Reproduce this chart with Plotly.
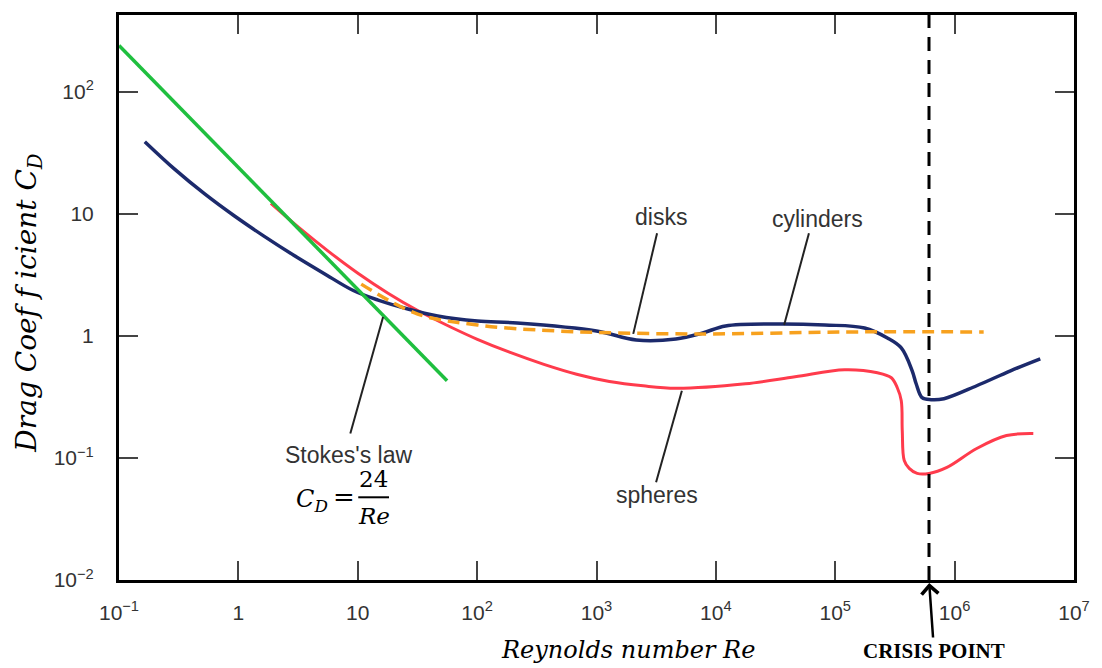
import math
import plotly.graph_objects as go

# ---------------- data ----------------
cyl_re = [0.1645, 0.2922, 0.5191, 0.9220, 1.637, 2.908, 5.166, 9.176, 14.81, 26.30, 46.71,
          100.5, 216.1, 1000, 2150, 4627, 7760, 12050, 31400, 81770, 176000, 273300, 357300,
          441000, 476200, 534200, 634600, 814200, 1531000, 2937000, 5217000]
cyl_cd = [39.06, 23.26, 14.64, 9.65, 6.577, 4.584, 3.268, 2.356, 1.967, 1.661, 1.457,
          1.326, 1.277, 1.099, 0.927, 0.945, 1.058, 1.207, 1.253, 1.229, 1.162, 0.963, 0.798,
          0.518, 0.4057, 0.3118, 0.3003, 0.306, 0.3907, 0.518, 0.649]

sph_re = [1.872, 3.200, 5.685, 10.10, 17.93, 31.8, 59.9, 100.5, 189.1, 362.4, 681.9, 1283, 2460,
          4627, 17680, 46050, 119900, 225600, 295100, 331000, 357300, 364200, 378400, 416500,
          485600, 610900, 862000, 1531000, 2720000, 4561000]
sph_cd = [12.18, 7.745, 4.933, 3.250, 2.240, 1.615, 1.184, 0.938, 0.732, 0.5853, 0.4859, 0.4236,
          0.390, 0.3727, 0.4057, 0.4627, 0.5278, 0.4989, 0.4542, 0.3763, 0.2946, 0.1676, 0.0954,
          0.0821, 0.0747, 0.0747, 0.0837, 0.1196, 0.1527, 0.1585]

disk_re = [10.69, 31.8, 100.5, 465, 6786, 119900, 1751000]
disk_cd = [2.658, 1.512, 1.230, 1.099, 1.038, 1.078, 1.078]

stokes_re = [0.1, 56]
stokes_cd = [240, 0.43]

crisis_re = 6.1e5

x_tickvals = [1e-1, 1, 10, 1e2, 1e3, 1e4, 1e5, 1e6, 1e7]
x_ticktext = ["10<sup>\u22121</sup>", "1", "10", "10<sup>2</sup>", "10<sup>3</sup>",
              "10<sup>4</sup>", "10<sup>5</sup>", "10<sup>6</sup>", "10<sup>7</sup>"]
y_tickvals = [1e-2, 1e-1, 1, 10, 1e2]
y_ticktext = ["10<sup>\u22122</sup>", "10<sup>\u22121</sup>", "1", "10", "10<sup>2</sup>"]

# ---------------- layout geometry ----------------
W, H = 1102, 668
L, R, T, B = 119, 1081, 13, 580


def px(x):
    return (x - L) / (R - L)


def py(y):
    return (B - y) / (B - T)


NAVY = "#1c2a6c"
RED = "#ff3b4c"
GREEN = "#1fbf3f"
ORANGE = "#f7a11e"
TXT = "#333333"
SANS = "Liberation Sans, Arial, sans-serif"
SERIF = "DejaVu Serif, serif"

fig = go.Figure()
fig.add_trace(go.Scatter(x=sph_re, y=sph_cd, mode="lines",
                         line=dict(color=RED, width=3, shape="spline", smoothing=1.0),
                         hoverinfo="skip"))
fig.add_trace(go.Scatter(x=cyl_re, y=cyl_cd, mode="lines",
                         line=dict(color=NAVY, width=3.5, shape="spline", smoothing=1.0),
                         hoverinfo="skip"))
fig.add_trace(go.Scatter(x=disk_re, y=disk_cd, mode="lines",
                         line=dict(color=ORANGE, width=3.5, dash="12px,7px", shape="spline", smoothing=1.0),
                         hoverinfo="skip"))
fig.add_trace(go.Scatter(x=stokes_re, y=stokes_cd, mode="lines",
                         line=dict(color=GREEN, width=3.5), hoverinfo="skip"))

axis_common = dict(type="log", showline=True, linecolor="black", linewidth=3, mirror="allticks",
                   ticks="inside", ticklen=19, tickwidth=2, tickcolor="#444444",
                   showgrid=False, zeroline=False,
                   tickfont=dict(family=SANS, size=21, color=TXT))

fig.update_xaxes(range=[-1, 7], tickmode="array", tickvals=x_tickvals, ticktext=x_ticktext,
                 ticklabelstandoff=12, **axis_common)
fig.update_yaxes(range=[-2, 2.63], tickmode="array", tickvals=y_tickvals, ticktext=y_ticktext,
                 ticklabelstandoff=18, **axis_common)

shapes = []
# crisis vertical dashed line
shapes.append(dict(type="line", xref="x", yref="paper", x0=crisis_re, x1=crisis_re, y0=0, y1=1,
                   line=dict(color="black", width=3, dash="14px,9px")))
# leader lines
for (x0, y0, x1, y1) in [(661, 232, 637, 333), (814, 232, 789, 324),
                         (385, 316, 352, 433), (686, 390, 660, 482)]:
    shapes.append(dict(type="line", xref="paper", yref="paper",
                       x0=px(x0), y0=py(y0), x1=px(x1), y1=py(y1),
                       line=dict(color="#222222", width=2)))
# fraction bar
shapes.append(dict(type="line", xref="paper", yref="paper", x0=px(360), x1=px(391),
                   y0=py(497), y1=py(497), line=dict(color="black", width=2)))

anns = []


def label(text, x, y, size=23, family=SANS, color=TXT, **kw):
    anns.append(dict(text=text, x=px(x), y=py(y), xref="paper", yref="paper",
                     showarrow=False, xanchor="center", yanchor="middle",
                     font=dict(family=family, size=size, color=color), **kw))


label("disks", 665, 216)
label("cylinders", 823, 218)
label("Stokes's law", 350, 455)
label("spheres", 661, 495)
label("<i>C</i><sub><i>D</i></sub>", 313, 500, size=24, family=SERIF, color="black")
label("=", 346, 497, size=26, family=SERIF, color="black")
label("24", 375, 479, size=23, family=SERIF, color="black")
label("<i>Re</i>", 376, 516, size=23, family=SERIF, color="black")
label("<i>Reynolds number Re</i>", 632, 650, size=24, family=SERIF, color="black")
label("<i>Drag Coef f icient C</i><sub><i>D</i></sub>", 28, 302, size=28, family=SERIF,
      color="black", textangle=-90)

# crisis point text with arrow
anns.append(dict(text="<b>CRISIS POINT</b>", x=math.log10(crisis_re), y=0, xref="x", yref="paper",
                 ax=5, ay=71, axref="pixel", ayref="pixel", showarrow=True,
                 arrowhead=4, arrowsize=1.3, arrowwidth=2.5, arrowcolor="black", standoff=3,
                 font=dict(family="Liberation Serif, serif", size=21, color="black")))

fig.update_layout(width=W, height=H, margin=dict(l=L, r=W - R, t=T, b=H - B),
                  paper_bgcolor="white", plot_bgcolor="white", showlegend=False,
                  shapes=shapes, annotations=anns)

fig.write_html("out.html")
